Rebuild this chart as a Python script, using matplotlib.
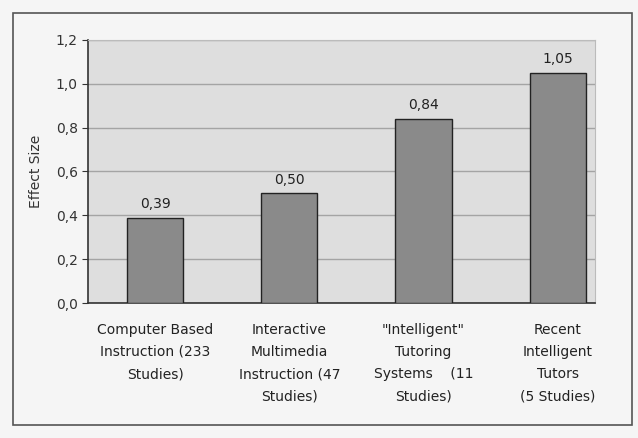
import matplotlib.pyplot as plt
from matplotlib.patches import Rectangle

categories = [
    "Computer Based\nInstruction (233\nStudies)",
    "Interactive\nMultimedia\nInstruction (47\nStudies)",
    "\"Intelligent\"\nTutoring\nSystems    (11\nStudies)",
    "Recent\nIntelligent\nTutors\n(5 Studies)",
]
effect_sizes = [0.39, 0.50, 0.84, 1.05]
y_ticks = [0.0, 0.2, 0.4, 0.6, 0.8, 1.0, 1.2]

plt.rcParams['font.family'] = ['DejaVu Sans']

fig = plt.figure(figsize=(6.38, 4.38), dpi=100)
fig.patch.set_facecolor('#f5f5f5')
# frame around the whole chart
fig.add_artist(Rectangle((0.02, 0.03), 0.97, 0.94, transform=fig.transFigure,
                         fill=False, edgecolor='#555555', linewidth=1.2))

ax = fig.add_axes([0.138, 0.308, 0.795, 0.601])
ax.set_facecolor('#dedede')

x = list(range(len(categories)))
bars = ax.bar(x, effect_sizes, width=0.42, color='#8a8a8a',
              edgecolor='#222222', linewidth=1.0, zorder=3)

for b, v in zip(bars, effect_sizes):
    ax.text(b.get_x() + b.get_width() / 2, v + 0.03,
            f"{v:.2f}".replace('.', ','), ha='center', va='bottom',
            fontsize=10, color='#222222')

ax.set_xlim(-0.5, 3.28)
ax.set_ylim(0, 1.2)
ax.set_yticks(y_ticks)
ax.set_yticklabels([f"{t:.1f}".replace('.', ',') for t in y_ticks],
                   fontsize=10, color='#333333')
ax.set_xticks(x)
ax.set_xticklabels(categories, fontsize=10, color='#222222', linespacing=1.75,
                   va='top')
ax.tick_params(axis='x', length=0, pad=14)
ax.tick_params(axis='y', length=4, color='#333333')
ax.set_ylabel("Effect Size", fontsize=10, color='#333333', labelpad=9)

ax.yaxis.grid(True, color='#a4a4a4', linewidth=1.0, zorder=0)
ax.set_axisbelow(True)
for side in ['top', 'right']:
    ax.spines[side].set_color('#bbbbbb')
for side in ['left', 'bottom']:
    ax.spines[side].set_color('#333333')
    ax.spines[side].set_linewidth(1.2)

fig.savefig('out.png', dpi=100, facecolor=fig.get_facecolor())
